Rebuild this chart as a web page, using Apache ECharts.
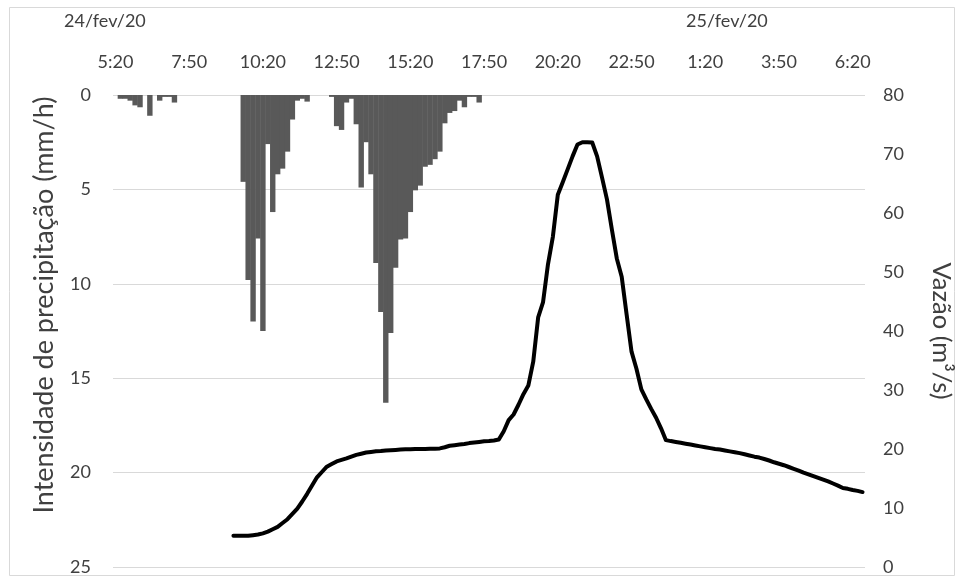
<!DOCTYPE html>
<html>
<head>
<meta charset="utf-8">
<title>Precipitação e vazão</title>
<script src="https://cdn.jsdelivr.net/npm/echarts@6/dist/echarts.min.js"></script>
<style>
  html, body { margin: 0; padding: 0; background: #ffffff; }
  #chart { width: 965px; height: 583px; }
</style>
</head>
<body>
<div id="chart"></div>
<script>
// Time base: 10-minute steps from 24/fev/20 05:20 to 25/fev/20 06:40
const START_HOUR = 5;
const START_MIN = 20;
const STEP_MIN = 10;
const STEP_COUNT = 153;
const LABEL_EVERY = 15; // one time label every 2.5 h

// Day labels above the time labels
const dayLabels = ['24/fev/20', '25/fev/20'];

// Rain intensity (mm/h), one value per 10-minute step, three rain episodes
const rainEarlyStart = '5:20';
const rainEarly = [0, 0.2, 0.2, 0.3, 0.55, 0.65, 0, 1.1, 0, 0.3, 0.1, 0.1, 0.4];
const rainMiddayStart = '9:40';
const rainMidday = [4.6, 9.8, 12.0, 7.6, 12.5, 2.6, 6.2, 4.2, 3.9, 3.0, 1.3, 0.3, 0.2, 0.35];
const rainAfternoonStart = '12:40';
const rainAfternoon = [0.1, 1.65, 1.85, 0.4, 0.2, 1.55, 4.9, 2.5, 4.2, 8.9,
  11.5, 16.3, 12.6, 9.15, 7.65, 7.6, 6.2, 5.05, 4.8, 3.8,
  3.7, 3.4, 3.0, 1.5, 0.95, 0.85, 0.3, 0.65, 0.1, 0.1, 0.4];

// Discharge (m³/s) from 9:20 onwards
const flowStart = '9:20';
const flow = [5.3, 5.3, 5.3, 5.3, 5.4, 5.5,
  5.7, 6.0, 6.4, 6.8, 7.45, 8.1, 9.0, 9.9, 11.1, 12.4,
  13.8, 15.2, 16.1, 17.0, 17.45, 17.9, 18.15, 18.4, 18.7, 19.0,
  19.2, 19.4, 19.5, 19.6, 19.65, 19.75, 19.8, 19.85, 19.9, 19.95,
  19.95, 20.0, 20.0, 20.0, 20.05, 20.05, 20.1, 20.3, 20.55, 20.65,
  20.75, 20.85, 21.0, 21.1, 21.2, 21.3, 21.35, 21.45, 21.6, 23.0,
  24.9, 25.85, 27.5, 29.3, 30.75, 34.8, 42.3, 44.9, 51.3, 56.0,
  63.1, 65.2, 67.4, 69.6, 71.6, 72.0, 72.0, 71.95, 69.6, 66.0,
  62.3, 57.2, 52.3, 49.2, 42.8, 36.5, 33.6, 30.1, 28.4, 26.8,
  25.3, 23.5, 21.5, 21.34, 21.2, 21.05, 20.9, 20.75, 20.6, 20.45,
  20.3, 20.15, 20.0, 19.9, 19.75, 19.6, 19.45, 19.3, 19.1, 18.9,
  18.7, 18.55, 18.3, 18.05, 17.75, 17.5, 17.25, 16.95, 16.65, 16.35,
  16.0, 15.7, 15.4, 15.1, 14.8, 14.5, 14.15, 13.8, 13.4, 13.25,
  13.05, 12.9, 12.7];

// Category labels "H:MM"
const times = [];
for (let k = 0; k < STEP_COUNT; k++) {
  const total = START_HOUR * 60 + START_MIN + k * STEP_MIN;
  const h = Math.floor(total / 60) % 24;
  const m = total % 60;
  times.push(h + ':' + String(m).padStart(2, '0'));
}

// Place an episode into a full-length series
function placeRun(start, values, fill) {
  const out = new Array(STEP_COUNT).fill(fill);
  const at = times.indexOf(start);
  values.forEach((v, j) => { out[at + j] = v; });
  return out;
}
const rainSeries = placeRun(rainEarlyStart, rainEarly, 0);
placeRun(rainMiddayStart, rainMidday, null).forEach((v, k) => { if (v !== null) rainSeries[k] = v; });
placeRun(rainAfternoonStart, rainAfternoon, null).forEach((v, k) => { if (v !== null) rainSeries[k] = v; });
const flowSeries = placeRun(flowStart, flow, null);

const FONT = 'Lato, "Open Sans", sans-serif';
const TEXT = '#404040';
const BAR = '#595959';

const chart = echarts.init(document.getElementById('chart'), null, { renderer: 'canvas' });
chart.setOption({
  animation: false,
  backgroundColor: '#ffffff',
  textStyle: { fontFamily: FONT },
  grid: { left: 113, right: 100, top: 95, bottom: 16, containLabel: false },
  xAxis: {
    type: 'category',
    position: 'top',
    data: times,
    boundaryGap: true,
    axisLine: { show: false },
    axisTick: { show: false },
    splitLine: { show: false },
    axisLabel: {
      interval: (idx) => idx % LABEL_EVERY === 0,
      color: TEXT, fontSize: 18, fontFamily: FONT, margin: 24
    }
  },
  yAxis: [
    {
      type: 'value', inverse: true, min: 0, max: 25, interval: 5,
      axisLine: { show: false }, axisTick: { show: false },
      splitLine: { show: true, lineStyle: { color: '#d9d9d9', width: 1 } },
      axisLabel: { color: TEXT, fontSize: 18, fontFamily: FONT, margin: 22 }
    },
    {
      type: 'value', position: 'right', min: 0, max: 80, interval: 10,
      axisLine: { show: false }, axisTick: { show: false },
      splitLine: { show: false },
      axisLabel: { color: TEXT, fontSize: 18, fontFamily: FONT, margin: 18 },
      name: 'Vazão (m³/s)',
      nameLocation: 'middle', nameGap: 63, nameRotate: -90,
      nameTextStyle: { color: TEXT, fontSize: 25.5, fontFamily: FONT }
    }
  ],
  series: [
    {
      name: 'Precipitação', type: 'bar', yAxisIndex: 0,
      data: rainSeries, barWidth: 5.4,
      itemStyle: { color: BAR }
    },
    {
      name: 'Vazão', type: 'line', yAxisIndex: 1,
      data: flowSeries, showSymbol: false, symbol: 'none',
      connectNulls: false,
      lineStyle: { color: '#000000', width: 4, join: 'round', cap: 'round' }
    }
  ],
  graphic: [
    {
      type: 'rect', silent: true, z: -1,
      shape: { x: 9.5, y: 7.5, width: 945, height: 568 },
      style: { fill: 'none', stroke: '#d9d9d9', lineWidth: 1 }
    },
    {
      type: 'text', left: 64, top: 12,
      style: { text: dayLabels[0], fill: TEXT, font: '18px ' + FONT }
    },
    {
      type: 'text', left: 686, top: 12,
      style: { text: dayLabels[1], fill: TEXT, font: '18px ' + FONT }
    },
    {
      // left axis title, reading bottom to top
      type: 'text', x: 44, y: 305, rotation: Math.PI / 2,
      style: {
        text: 'Intensidade de precipitação (mm/h)', fill: TEXT,
        font: '27px ' + FONT, align: 'center', verticalAlign: 'middle'
      }
    }
  ]
});
</script>
</body>
</html>
